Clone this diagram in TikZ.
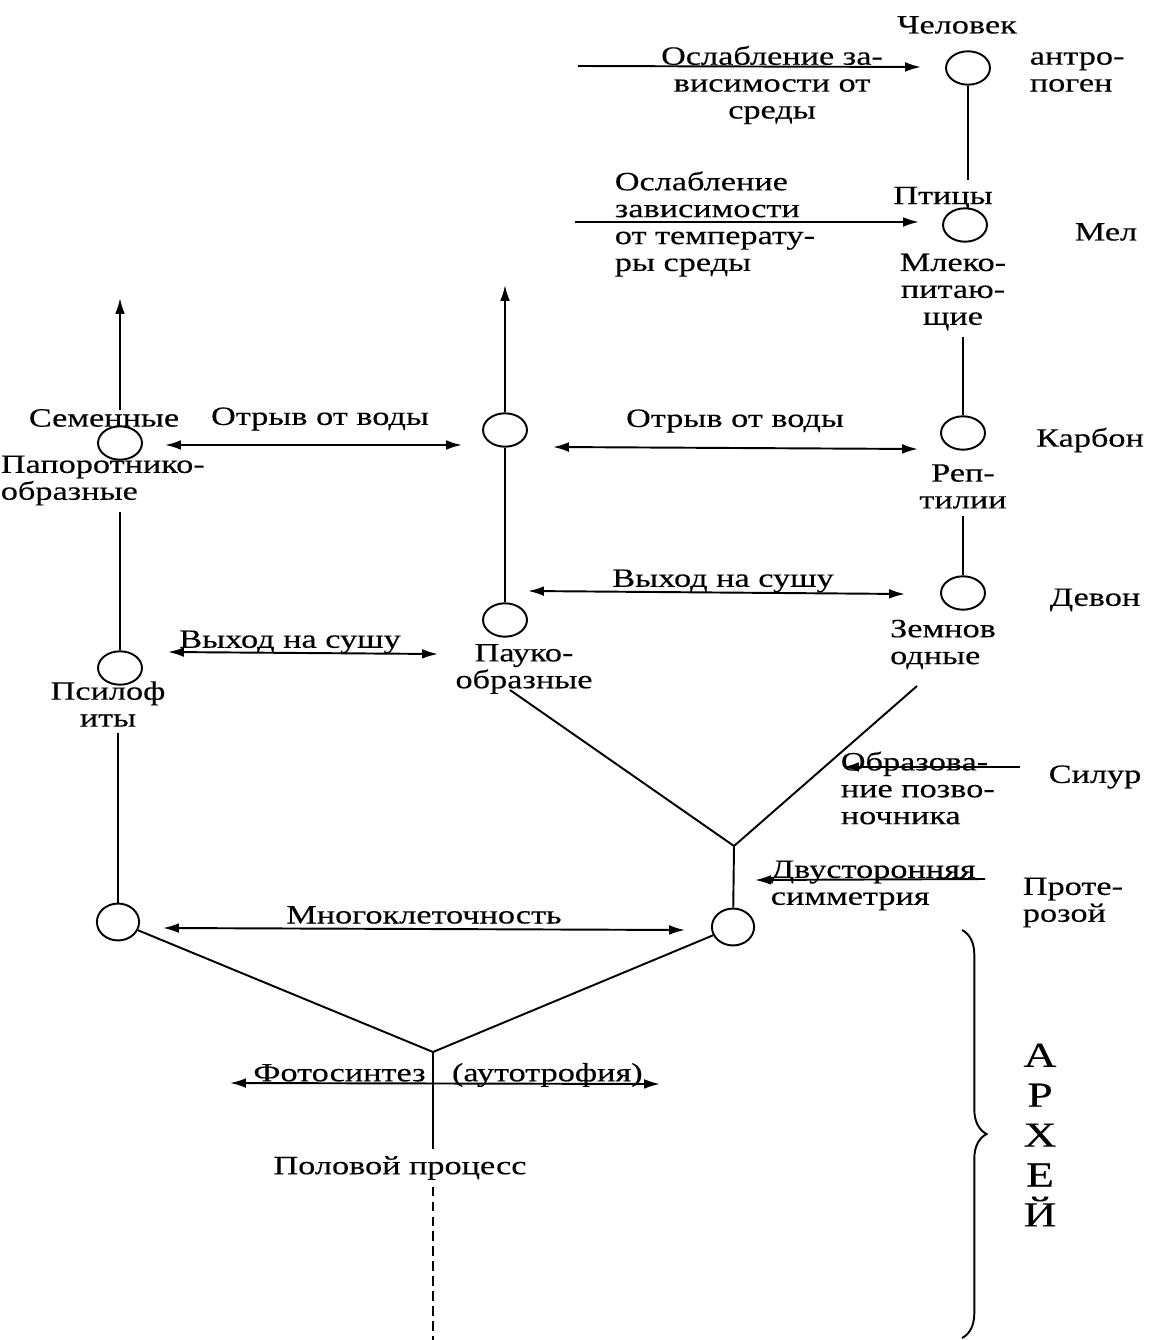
\documentclass[tikz,border=0pt]{standalone}
\usepackage{fontspec}
\setmainfont{Liberation Serif}[FakeStretch = 1.3, FakeBold = 0.3]
\usetikzlibrary{arrows.meta, shapes.geometric, decorations.pathreplacing}

\begin{document}
\begin{tikzpicture}[> = {Latex[length = 9pt, width = 5.5pt]}, line width = 1.1pt,
	font = \fontsize{15}{15.3}\selectfont,
	stage/.style = {draw, ellipse, minimum width = 25pt, minimum height = 19pt, inner sep = 0pt},
	root/.style = {stage, minimum width = 24pt, minimum height = 21pt}]

	\useasboundingbox (0, 0) rectangle (23.06, -26.8);

	% Vertebrates

	\node [stage] (man) at (19.36, -1.36) {};
	\node [stage] (bird) at (19.30, -4.50) {};
	\node [stage] (rept) at (19.26, -8.66) {};
	\node [stage] (amph) at (19.26, -11.86) {};

	\node (manLbl) at (19.14, -0.50) {Человек};
	\node (birdLbl) at (18.86, -3.96) {Птицы};
	\node [align = center] (mammalLbl) at (19.06, -5.84) {Млеко-\\питаю-\\щие};
	\node [align = center] (reptLbl) at (19.26, -9.73) {Реп-\\тилии};
	\node [align = left] (amphLbl) at (18.86, -12.89) {Земнов\\одные};

	\draw (man) -- (man |- birdLbl.north);
	\draw (rept |- mammalLbl.south) -- (rept);
	\draw (amph |- reptLbl.south) -- (amph);

	% Arthropods

	\node [stage] (arthTop) at (10.10, -8.60) {};
	\node [stage] (arach) at (10.10, -12.40) {};
	\node [align = center] (arachLbl) at (10.48, -13.38) {Пауко-\\образные};

	\coordinate (arthUp) at (10.10, -5.70);
	\draw [->] (arthTop) -- (arthUp);
	\draw (arthTop) -- (arach);

	% Animal branch

	\node [root] (animRoot) at (14.66, -18.54) {};
	\coordinate (vertJ) at (14.68, -16.92);
	\coordinate (amphEnd) at (18.34, -13.72);
	\coordinate (arachEnd) at (10.20, -13.80);
	\draw (amphEnd) -- (vertJ) -- (animRoot);
	\draw (arachEnd) -- (vertJ);

	% Plants

	\node [stage] (fern) at (2.40, -8.86) {};
	\node [stage] (psil) at (2.40, -13.36) {};
	\node [root] (plantRoot) at (2.36, -18.44) {};

	\node (semLbl) at (2.08, -8.36) {Семенные};
	\node [align = left, anchor = west] (papLbl) at (-0.12, -9.61) {Папоротнико-\\образные};
	\node [align = center] (psilLbl) at (2.16, -14.08) {Псилоф\\иты};

	\coordinate (fernBase) at (2.40, -8.20);
	\coordinate (fernUp) at (2.40, -5.96);
	\draw [->] (fernBase) -- (fernUp);
	\draw (psil |- papLbl.south) -- (psil);
	\draw (plantRoot |- psilLbl.south) -- (plantRoot);

	% Common root

	\node (procLbl) at (8.00, -23.36) {Половой процесс};
	\coordinate (rootJ) at (8.66, -21.04);
	\coordinate (rootEnd) at (8.66, -26.80);
	\draw (plantRoot) -- (rootJ) -- (animRoot);
	\draw (rootJ) -- (rootJ |- procLbl.north);
	\draw [line width = 0.8pt, dash pattern = on 5.5pt off 3pt] (rootJ |- procLbl.south) -- (rootEnd);

	% Weakening of dependence

	\coordinate (envA) at (11.56, -1.32);
	\coordinate (envB) at (18.42, -1.34);
	\draw [->] (envA) -- (envB);
	\node [align = center] (envLbl) at (15.44, -1.70) {Ослабление за-\\висимости от\\среды};

	\coordinate (tempA) at (11.50, -4.44);
	\coordinate (tempB) at (18.38, -4.44);
	\draw [->] (tempA) -- (tempB);
	\node [align = left, anchor = west] (tempLbl) at (12.16, -4.48) {Ослабление\\зависимости\\от температу-\\ры среды};

	% Leaving the water

	\coordinate (waterLA) at (3.30, -8.90);
	\coordinate (waterLB) at (9.24, -8.90);
	\draw [<->] (waterLA) -- (waterLB);
	\node (waterLLbl) at (6.40, -8.38) {Отрыв от воды};

	\coordinate (waterRA) at (11.06, -8.94);
	\coordinate (waterRB) at (18.36, -8.98);
	\draw [<->] (waterRA) -- (waterRB);
	\node (waterRLbl) at (14.70, -8.42) {Отрыв от воды};

	% Coming onto land

	\coordinate (landRA) at (10.56, -11.82);
	\coordinate (landRB) at (18.10, -11.88);
	\draw [<->] (landRA) -- (landRB);
	\node (landRLbl) at (14.46, -11.62) {Выход на сушу};

	\coordinate (landLA) at (3.36, -13.04);
	\coordinate (landLB) at (8.76, -13.08);
	\draw [<->] (landLA) -- (landLB);
	\node (landLLbl) at (5.80, -12.84) {Выход на сушу};

	% Spine and symmetry

	\coordinate (spineA) at (20.40, -15.34);
	\coordinate (spineB) at (16.86, -15.34);
	\draw [->] (spineA) -- (spineB);
	\node [align = left, anchor = west] (spineLbl) at (16.68, -15.76) {Образова-\\ние позво-\\ночника};

	\coordinate (symA) at (19.70, -17.58);
	\coordinate (symB) at (15.10, -17.60);
	\draw [->] (symA) -- (symB);
	\node [align = left, anchor = west] (symLbl) at (15.28, -17.71) {Двусторонняя\\симметрия};

	% Multicellularity and photosynthesis

	\coordinate (cellA) at (3.26, -18.56);
	\coordinate (cellB) at (13.70, -18.60);
	\draw [<->] (cellA) -- (cellB);
	\node (cellLbl) at (8.48, -18.30) {Многоклеточность};

	\coordinate (photoA) at (4.60, -21.66);
	\coordinate (photoB) at (13.20, -21.68);
	\draw [<->] (photoA) -- (photoB);
	\node (photoLbl) at (8.96, -21.50) {Фотосинтез\quad(аутотрофия)};

	% Eras

	\node [align = left, anchor = west] (anthro) at (20.46, -1.44) {антро-\\поген};
	\node (melLbl) at (22.12, -4.64) {Мел};
	\node (carbLbl) at (21.80, -8.80) {Карбон};
	\node (devLbl) at (21.90, -12.00) {Девон};
	\node (silLbl) at (21.90, -15.54) {Силур};
	\node [align = left, anchor = west] (protLbl) at (20.32, -18.05) {Проте-\\розой};

	\coordinate (braceTop) at (19.24, -18.60);
	\coordinate (braceBot) at (19.24, -26.76);
	\draw [decorate, decoration = {brace, amplitude = 14pt}] (braceTop) -- (braceBot);
	\node [align = center, font = \fontsize{20}{22.7}\selectfont] (archLbl) at (20.80, -22.70) {А\\Р\\Х\\Е\\Й};

\end{tikzpicture}
\end{document}
